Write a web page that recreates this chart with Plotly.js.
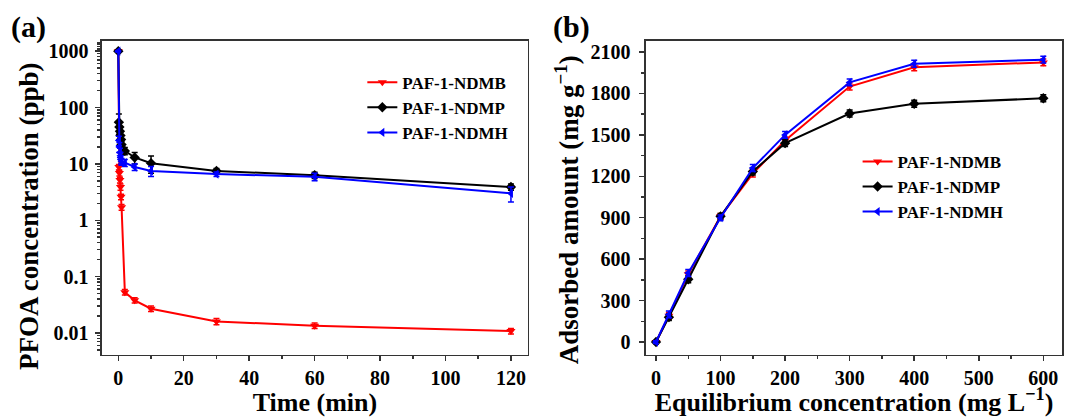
<!DOCTYPE html>
<html><head><meta charset="utf-8">
<script src="https://cdn.plot.ly/plotly-3.0.1.min.js"></script>
<style>html,body{margin:0;padding:0;background:#fff}#plot{width:1072px;height:417px}</style>
</head><body><div id="plot"></div>
<script>
// Panel (a): kinetics
const timeMin = [0, 0.17, 0.33, 0.5, 0.67, 0.83, 1, 2, 5, 10, 30, 60, 120];
const ndmbConc = [1000, 8.8, 6.9, 5.2, 3.9, 2.6, 1.7, 0.053, 0.038, 0.027, 0.016, 0.0135, 0.0108];
const ndmbErr  = [30, 1.0, 0.8, 0.6, 0.5, 0.3, 0.2, 0.006, 0.004, 0.003, 0.002, 0.0015, 0.0012];
const ndmpConc = [1000, 55, 45, 38, 32, 27, 22, 17, 13, 10.3, 7.5, 6.3, 3.9];
const ndmpErr  = [30, 22, 10, 7, 5, 4, 3, 2.5, 3, 3.5, 0.8, 0.8, 0.5];
const ndmhConc = [1000, 26, 20, 16, 14, 12, 11, 10.5, 8.8, 7.5, 6.6, 5.9, 3.0];
const ndmhErr  = [30, 5, 4, 3, 2, 2, 1.5, 1.5, 1.2, 1.5, 0.6, 0.9, 0.9];

// Panel (b): isotherms
const eqConc = [0, 20, 50, 100, 150, 200, 300, 400, 600];
const ndmbAds = [0, 190, 490, 910, 1220, 1460, 1850, 1990, 2025];
const ndmbAdsErr = [10, 25, 25, 20, 25, 25, 25, 25, 25];
const ndmpAds = [0, 180, 455, 910, 1235, 1440, 1655, 1725, 1765];
const ndmpAdsErr = [10, 25, 25, 20, 25, 25, 25, 25, 25];
const ndmhAds = [0, 200, 500, 900, 1260, 1500, 1880, 2015, 2045];
const ndmhAdsErr = [10, 25, 25, 20, 25, 25, 25, 25, 25];

const seriesNames = ['PAF-1-NDMB', 'PAF-1-NDMP', 'PAF-1-NDMH'];
const colors = ['#ff0000', '#000000', '#0000ff'];
const symbols = ['triangle-down', 'diamond', 'triangle-left'];
const logTickVals = [0.01, 0.1, 1, 10, 100, 1000];
const logTickText = ['0.01', '0.1', '1', '10', '100', '1000'];
const logMinorVals = [0.005,0.006,0.007,0.008,0.009,0.02,0.03,0.04,0.05,0.06,0.07,0.08,0.09,0.2,0.3,0.4,0.5,0.6,0.7,0.8,0.9,2,3,4,5,6,7,8,9,20,30,40,50,60,70,80,90,200,300,400,500,600,700,800,900,1100,1200,1300,1400];

const FONT = 'Liberation Serif, Times New Roman, serif';

function tr(x, y, err, i, xa, ya, leg) {
  return {
    x: x, y: y, type: 'scatter', mode: 'lines+markers', name: seriesNames[i],
    xaxis: xa, yaxis: ya, legend: leg,
    line: {color: colors[i], width: 2},
    marker: {symbol: symbols[i], size: 8, color: colors[i]},
    error_y: {type: 'data', array: err, visible: true, color: colors[i], thickness: 1.5, width: 3}
  };
}

const data = [
  tr(timeMin, ndmbConc, ndmbErr, 0, 'x', 'y', 'legend'),
  tr(timeMin, ndmpConc, ndmpErr, 1, 'x', 'y', 'legend'),
  tr(timeMin, ndmhConc, ndmhErr, 2, 'x', 'y', 'legend'),
  tr(eqConc, ndmbAds, ndmbAdsErr, 0, 'x2', 'y2', 'legend2'),
  tr(eqConc, ndmpAds, ndmpAdsErr, 1, 'x2', 'y2', 'legend2'),
  tr(eqConc, ndmhAds, ndmhAdsErr, 2, 'x2', 'y2', 'legend2')
];

const tickFont = {family: FONT, size: 20, color: '#000', weight: 'bold'};
const titleFont = {family: FONT, size: 27, color: '#000', weight: 'bold'};
const xTitleFont = {family: FONT, size: 26, color: '#000', weight: 'bold'};
const legFont = {family: FONT, size: 17, color: '#000', weight: 'bold'};
const axBase = {
  showline: true, linecolor: '#333', linewidth: 1.5, mirror: true,
  ticks: 'outside', ticklen: 5, tickwidth: 1.5, tickcolor: '#333',
  showgrid: false, zeroline: false, tickfont: tickFont, automargin: false
};

const layout = {
  width: 1072, height: 417,
  margin: {l: 0, r: 0, t: 0, b: 0},
  paper_bgcolor: '#fff', plot_bgcolor: '#fff',
  showlegend: true,
  xaxis: Object.assign({}, axBase, {
    domain: [0.0951, 0.4925], range: [-5, 125.2], tick0: 0, dtick: 20,
    minor: {ticks: 'outside', ticklen: 3, dtick: 10, tickcolor: '#333'},
    title: {text: 'Time (min)', font: xTitleFont, standoff: 3}
  }),
  yaxis: Object.assign({}, axBase, {
    domain: [0.1487, 0.9017], type: 'log', range: [-2.39, 3.18],
    tickvals: logTickVals, ticktext: logTickText, ticklabelstandoff: 3,
    minor: {ticks: 'outside', ticklen: 3, tickcolor: '#333', tickvals: logMinorVals}
  }),
  xaxis2: Object.assign({}, axBase, {
    anchor: 'y2', domain: [0.6026, 0.9907], range: [-15.5, 629], tick0: 0, dtick: 100,
    minor: {ticks: 'outside', ticklen: 3, dtick: 50, tickcolor: '#333'},
    title: {text: 'Equilibrium concentration (mg L<sup>\u22121</sup>)', font: xTitleFont, standoff: 6}
  }),
  yaxis2: Object.assign({}, axBase, {
    anchor: 'x2', domain: [0.1487, 0.9017], range: [-94, 2180], tick0: 0, dtick: 300,
    ticklabelstandoff: 5,
    minor: {ticks: 'outside', ticklen: 3, dtick: 150, tickcolor: '#333'}
  }),
  legend: {
    x: 0.338, y: 0.845, xanchor: 'left', yanchor: 'top',
    bgcolor: 'rgba(0,0,0,0)', borderwidth: 0, tracegroupgap: 0, font: legFont
  },
  legend2: {
    x: 0.8, y: 0.655, xanchor: 'left', yanchor: 'top',
    bgcolor: 'rgba(0,0,0,0)', borderwidth: 0, tracegroupgap: 0, font: legFont
  },
  annotations: [
    {text: '(a)', xref: 'paper', yref: 'paper', x: 0.008, y: 0.935, xanchor: 'left', yanchor: 'middle', showarrow: false,
     font: {family: FONT, size: 30, color: '#000', weight: 'bold'}},
    {text: '(b)', xref: 'paper', yref: 'paper', x: 0.514, y: 0.935, xanchor: 'left', yanchor: 'middle', showarrow: false,
     font: {family: FONT, size: 30, color: '#000', weight: 'bold'}},
    {text: 'PFOA concentration (ppb)', xref: 'paper', yref: 'paper', x: 0.027, y: 0.482, xanchor: 'center', yanchor: 'middle',
     textangle: -90, showarrow: false, font: titleFont},
    {text: 'Adsorbed amount (mg g<sup>\u22121</sup>)', xref: 'paper', yref: 'paper', x: 0.529, y: 0.496, xanchor: 'center', yanchor: 'middle',
     textangle: -90, showarrow: false, font: titleFont}
  ]
};

Plotly.newPlot('plot', data, layout, {displayModeBar: false, staticPlot: true});
</script>
</body></html>
